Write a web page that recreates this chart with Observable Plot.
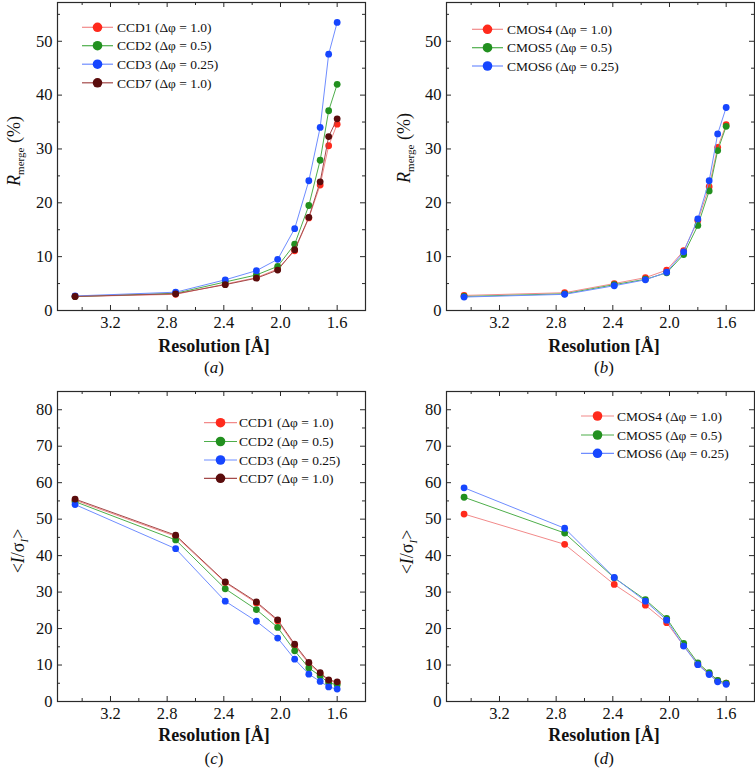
<!DOCTYPE html>
<html><head><meta charset="utf-8">
<script src="https://cdn.jsdelivr.net/npm/d3@7"></script>
<script src="https://cdn.jsdelivr.net/npm/@observablehq/plot@0.6"></script>
<style>
body{margin:0;background:#fff;}
#wrap{position:relative;width:755px;height:769px;overflow:hidden;background:#fff;}
.panel{position:absolute;}
#overlay{position:absolute;left:0;top:0;}
</style></head><body><div id="wrap"></div>
<script>
const resolution = [3.45, 2.74, 2.39, 2.17, 2.02, 1.90, 1.80, 1.72, 1.66, 1.60];

const rmergeCCD1 = [2.6, 3.0, 4.9, 6.1, 7.7, 11.1, 17.2, 23.3, 30.6, 34.6];
const rmergeCCD2 = [2.6, 3.2, 5.3, 6.6, 8.2, 12.3, 19.5, 27.9, 37.1, 42.0];
const rmergeCCD3 = [2.7, 3.4, 5.7, 7.4, 9.5, 15.2, 24.1, 34.0, 47.6, 53.5];
const rmergeCCD7 = [2.6, 3.1, 4.8, 6.0, 7.5, 11.3, 17.3, 23.9, 32.3, 35.6];

const rmergeCMOS4 = [2.8, 3.3, 5.0, 6.1, 7.5, 11.1, 16.7, 23.0, 30.3, 34.5];
const rmergeCMOS5 = [2.6, 3.1, 4.8, 5.8, 7.0, 10.4, 15.8, 22.2, 29.7, 34.2];
const rmergeCMOS6 = [2.5, 3.0, 4.6, 5.7, 7.1, 10.9, 17.0, 24.1, 32.8, 37.7];

const isigCCD1 = [55.2, 45.3, 32.6, 27.0, 22.1, 15.3, 10.4, 7.6, 5.7, 5.1];
const isigCCD2 = [54.8, 44.3, 30.9, 25.2, 20.3, 13.9, 9.2, 7.0, 5.1, 4.6];
const isigCCD3 = [54.0, 41.9, 27.5, 22.0, 17.4, 11.6, 7.5, 5.5, 4.0, 3.4];
const isigCCD7 = [55.5, 45.6, 32.8, 27.3, 22.4, 15.7, 10.7, 7.9, 5.9, 5.4];

const isigCMOS4 = [51.4, 43.1, 32.1, 26.4, 21.6, 15.3, 10.2, 7.7, 5.7, 5.0];
const isigCMOS5 = [56.0, 46.2, 33.9, 27.9, 22.8, 15.9, 10.6, 7.9, 5.8, 5.0];
const isigCMOS6 = [58.6, 47.5, 34.0, 27.5, 22.3, 15.2, 10.1, 7.4, 5.4, 4.7];

const ccdNames = ["CCD1 (Δφ = 1.0)", "CCD2 (Δφ = 0.5)", "CCD3 (Δφ = 0.25)", "CCD7 (Δφ = 1.0)"];
const cmosNames = ["CMOS4 (Δφ = 1.0)", "CMOS5 (Δφ = 0.5)", "CMOS6 (Δφ = 0.25)"];
const panelLetters = ["a", "b", "c", "d"];

const xTicks = [3.2, 2.8, 2.4, 2.0, 1.6];
const xMinorTicks = [3.4, 3.0, 2.6, 2.2, 1.8];
const rmergeTicks = [0, 10, 20, 30, 40, 50];
const rmergeMinorTicks = [5, 15, 25, 35, 45, 55];
const isigTicks = [0, 10, 20, 30, 40, 50, 60, 70, 80];
const isigMinorTicks = [5, 15, 25, 35, 45, 55, 65, 75];

const dotColors = ["#ff2a1c", "#22901f", "#1646ff", "#5a0c0c"];
const lineColors = ["#f28a8a", "#4eae4b", "#6f8dff", "#a44a4a"];

const FONT = '"Liberation Serif","Times New Roman",serif';
const wrap = document.getElementById("wrap");
const AX = "#2a2a2a";

function makePanel(opts) {
  const {series, yDomain, yMajor, yMinor, left, top, width, height, margin} = opts;
  const fw = width - margin[1] - margin[3];
  const fh = height - margin[0] - margin[2];
  const marks = [];
  series.forEach((vals, k) => {
    const rows = vals.map((v, i) => ({res: resolution[i], v}));
    marks.push(Plot.line(rows, {x: "res", y: "v", stroke: lineColors[k], strokeWidth: 1}));
    marks.push(Plot.dot(rows, {x: "res", y: "v", r: 3.4, fill: dotColors[k], stroke: "none"}));
  });
  const tick = (data, dim, len, side) => {
    const o = {stroke: AX, strokeWidth: 1};
    if (dim === "x") {
      o.x = d => d;
      if (side === "bottom") o.insetTop = fh - len; else o.insetBottom = fh - len;
      return Plot.ruleX(data, o);
    } else {
      o.y = d => d;
      if (side === "left") o.insetRight = fw - len; else o.insetLeft = fw - len;
      return Plot.ruleY(data, o);
    }
  };
  marks.push(
    tick(xTicks, "x", 5, "bottom"), tick(xMinorTicks, "x", 3, "bottom"),
    tick(xTicks, "x", 5, "top"), tick(xMinorTicks, "x", 3, "top"),
    tick(yMajor, "y", 5, "left"), tick(yMinor, "y", 3, "left"),
    tick(yMajor, "y", 5, "right"), tick(yMinor, "y", 3, "right"),
    Plot.frame({stroke: AX, strokeWidth: 1.2}),
    Plot.axisX(xTicks, {anchor: "bottom", tickSize: 0, tickPadding: 6, tickFormat: d => d.toFixed(1), label: null, fill: "#111"}),
    Plot.axisY(yMajor, {anchor: "left", tickSize: 0, tickPadding: 5, label: null, fill: "#111"})
  );
  const svg = Plot.plot({
    width, height,
    marginTop: margin[0], marginRight: margin[1], marginBottom: margin[2], marginLeft: margin[3],
    style: {fontFamily: FONT, fontSize: "16.5px", color: "#111", background: "transparent", overflow: "visible"},
    x: {type: "linear", domain: [3.574, 1.400]},
    y: {type: "linear", domain: yDomain},
    marks
  });
  const div = document.createElement("div");
  div.className = "panel";
  div.style.left = left + "px";
  div.style.top = top + "px";
  div.appendChild(svg);
  wrap.appendChild(div);
}

makePanel({series: [rmergeCCD1, rmergeCCD2, rmergeCCD3, rmergeCCD7], yDomain: [0, 57.2], yMajor: rmergeTicks, yMinor: rmergeMinorTicks,
  left: 0, top: 0, width: 377, height: 380, margin: [2, 12, 70, 57]});
makePanel({series: [rmergeCMOS4, rmergeCMOS5, rmergeCMOS6], yDomain: [0, 57.2], yMajor: rmergeTicks, yMinor: rmergeMinorTicks,
  left: 389, top: 0, width: 366, height: 380, margin: [2, 1, 70, 57]});
makePanel({series: [isigCCD1, isigCCD2, isigCCD3, isigCCD7], yDomain: [0, 85], yMajor: isigTicks, yMinor: isigMinorTicks,
  left: 0, top: 380, width: 377, height: 389, margin: [11, 12, 68, 57]});
makePanel({series: [isigCMOS4, isigCMOS5, isigCMOS6], yDomain: [0, 85], yMajor: isigTicks, yMinor: isigMinorTicks,
  left: 389, top: 380, width: 366, height: 389, margin: [11, 1, 68, 57]});

// overlay: axis titles, panel letters, legends
const ov = d3.select(wrap).append("svg").attr("id", "overlay").attr("width", 755).attr("height", 769)
  .style("font-family", FONT);

const titlePos = [
  {cx: 214, ty: 352, ly: 373, yx: 20, yy: 151, kind: "r"},
  {cx: 604, ty: 352, ly: 373, yx: 410, yy: 148, kind: "r"},
  {cx: 214, ty: 741, ly: 764, yx: 24, yy: 551, kind: "i"},
  {cx: 604, ty: 741, ly: 764, yx: 413, yy: 552, kind: "i"}
];
titlePos.forEach((p, k) => {
  ov.append("text").attr("x", p.cx).attr("y", p.ty).attr("text-anchor", "middle")
    .attr("font-size", 18).attr("font-weight", "bold").attr("fill", "#111").text("Resolution [Å]");
  const lt = ov.append("text").attr("x", p.cx).attr("y", p.ly).attr("text-anchor", "middle")
    .attr("font-size", 17).attr("fill", "#111");
  lt.append("tspan").text("(");
  lt.append("tspan").attr("font-style", "italic").text(panelLetters[k]);
  lt.append("tspan").text(")");
  const yt = ov.append("text").attr("transform", `translate(${p.yx},${p.yy}) rotate(-90)`)
    .attr("text-anchor", "middle").attr("font-size", 18).attr("fill", "#111");
  if (p.kind === "r") {
    yt.append("tspan").attr("font-style", "italic").text("R");
    yt.append("tspan").attr("font-size", 11).attr("dy", 4).text("merge");
    yt.append("tspan").attr("dy", -4).text(" (%)");
  } else {
    yt.append("tspan").text("<");
    yt.append("tspan").attr("font-style", "italic").text("I");
    yt.append("tspan").text("/σ");
    yt.append("tspan").attr("font-size", 11).attr("font-style", "italic").attr("dy", 4).text("I");
    yt.append("tspan").attr("dy", -4).text(">");
  }
});

const legends = [
  {names: ccdNames, x1: 82, x2: 113, tx: 117, ys: [27.3, 45.7, 64.2, 82.8]},
  {names: cmosNames, x1: 472, x2: 503, tx: 507, ys: [29.3, 47.7, 66]},
  {names: ccdNames, x1: 204, x2: 237, tx: 239, ys: [422.7, 441.5, 460, 478.3]},
  {names: cmosNames, x1: 581, x2: 614, tx: 617, ys: [416, 435, 453.3]}
];
legends.forEach(L => {
  L.names.forEach((name, k) => {
    const y = L.ys[k];
    ov.append("line").attr("x1", L.x1).attr("x2", L.x2).attr("y1", y).attr("y2", y)
      .attr("stroke", lineColors[k]).attr("stroke-width", 1.2);
    ov.append("circle").attr("cx", (L.x1 + L.x2) / 2).attr("cy", y).attr("r", 4.8).attr("fill", dotColors[k]);
    ov.append("text").attr("x", L.tx).attr("y", y).attr("dy", "0.35em").attr("font-size", 13.5)
      .attr("fill", "#111").text(name);
  });
});
</script>
</body></html>
